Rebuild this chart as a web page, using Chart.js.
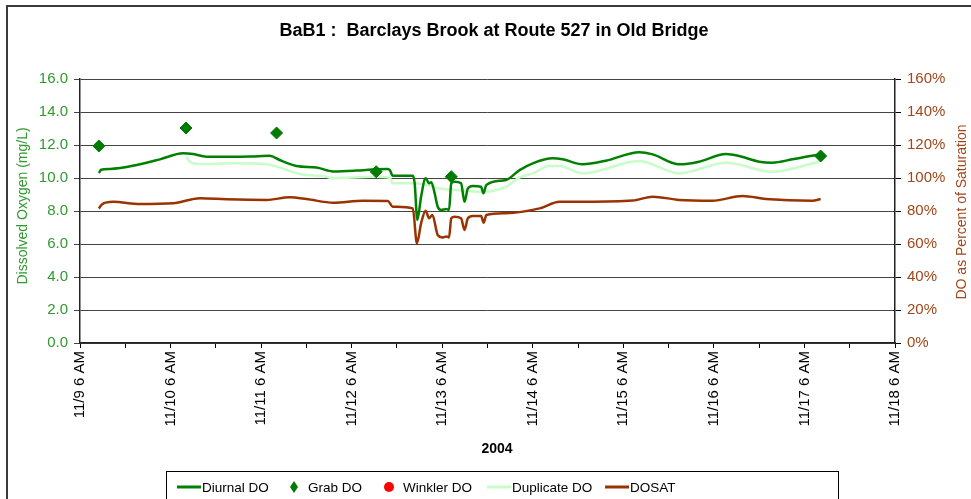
<!DOCTYPE html>
<html>
<head>
<meta charset="utf-8">
<script src="https://cdn.jsdelivr.net/npm/chart.js@4.4.1/dist/chart.umd.min.js"></script>
<style>
  html, body { margin: 0; padding: 0; background: #fff; }
  canvas { display: block; }
</style>
</head>
<body>
<canvas id="c" width="971" height="499"></canvas>
<script>
// ---------------- DATA ----------------
const chartTitle = 'BaB1 :  Barclays Brook at Route 527 in Old Bridge';
const xAxisTitle = '2004';
const yAxisTitle = 'Dissolved Oxygen (mg/L)';
const y2AxisTitle = 'DO as Percent of Saturation';
// x values are hours after 11/9 6 AM
const xTickLabels = ['11/9 6 AM','11/10 6 AM','11/11 6 AM','11/12 6 AM','11/13 6 AM','11/14 6 AM','11/15 6 AM','11/16 6 AM','11/17 6 AM','11/18 6 AM'];
const yTickValues = [0, 2, 4, 6, 8, 10, 12, 14, 16];
const y2TickValues = [0, 20, 40, 60, 80, 100, 120, 140, 160];

const diurnalHours = [5.0, 5.6, 8.0, 15.0, 21.2, 27.3, 30.0, 33.5, 38.8, 45.0, 50.3, 52.9, 57.4, 62.7, 67.1, 73.2, 78.5, 81.6, 82.1, 82.9, 88.2, 88.7, 89.4, 90.4, 91.6, 92.5, 93.1, 94.0, 94.8, 95.7, 97.1, 97.8, 98.4, 99.3, 101.0, 101.9, 102.8, 104.1, 106.3, 106.9, 107.7, 112.9, 116.5, 120.0, 125.3, 127.9, 133.2, 139.4, 148.2, 151.8, 158.8, 164.1, 171.2, 174.7, 180.0, 183.5, 188.8, 195.9];
const diurnalDO    = [10.30, 10.50, 10.55, 10.79, 11.13, 11.50, 11.45, 11.29, 11.29, 11.30, 11.35, 11.09, 10.73, 10.63, 10.40, 10.45, 10.53, 10.55, 10.48, 10.14, 10.14, 9.68, 7.45, 8.87, 9.98, 9.68, 9.75, 9.07, 8.26, 8.06, 8.12, 8.06, 9.68, 9.78, 9.68, 8.56, 9.37, 9.52, 9.47, 9.07, 9.58, 9.88, 10.48, 10.89, 11.19, 11.13, 10.83, 11.05, 11.56, 11.43, 10.83, 10.99, 11.45, 11.33, 10.99, 10.93, 11.13, 11.43];

const grabHours = [5.0, 28.1, 52.1, 78.5, 98.4, 196.3];
const grabDO    = [11.94, 13.03, 12.73, 10.38, 10.08, 11.33];

const winklerHours = [];
const winklerDO    = [];

const duplicateHours = [28.1, 29.1, 31.8, 40.6, 49.4, 52.9, 58.2, 65.3, 67.1, 77.6, 82.1, 82.9, 88.2, 90.9, 95.3, 99.7, 106.8, 112.9, 116.5, 120.0, 124.4, 127.1, 133.2, 148.2, 158.8, 171.2, 183.5, 195.9];
const duplicateDO    = [11.29, 10.99, 10.85, 10.89, 10.83, 10.63, 10.24, 10.08, 9.98, 10.08, 10.02, 9.68, 9.68, 9.62, 9.37, 9.27, 9.17, 9.47, 10.04, 10.28, 10.73, 10.73, 10.28, 11.03, 10.28, 10.93, 10.38, 10.99];

const dosatHours = [5.0, 5.8, 8.8, 15.9, 24.7, 31.8, 38.8, 49.4, 55.6, 60.0, 67.1, 75.0, 81.6, 82.9, 88.2, 89.3, 90.4, 91.6, 92.5, 93.4, 94.8, 96.2, 97.1, 97.8, 98.4, 99.3, 101.0, 101.9, 102.8, 104.1, 106.3, 107.0, 107.7, 112.9, 121.8, 127.1, 134.1, 146.5, 151.8, 158.8, 167.6, 175.6, 181.8, 194.1, 196.3];
const dosatPct   = [81.5, 84.0, 85.6, 84.2, 84.7, 87.7, 87.1, 86.7, 88.3, 87.3, 85.0, 86.2, 86.1, 82.6, 81.6, 60.4, 72.5, 80.2, 75.6, 77.6, 65.5, 64.0, 64.6, 64.0, 75.6, 76.5, 75.6, 68.5, 75.6, 77.0, 77.0, 72.9, 77.6, 78.6, 81.6, 85.6, 85.6, 86.3, 88.7, 86.7, 86.2, 89.1, 87.3, 86.2, 87.3];

// ---------------- BUILD ----------------
const pts = (xs, ys) => xs.map((x, i) => ({ x: x, y: ys[i] }));
const GREEN_TEXT = '#2f9a2f';
const BROWN_TEXT = '#a0461a';

const datasets = [
  { label: 'Diurnal DO', data: pts(diurnalHours, diurnalDO), yAxisID: 'y', borderColor: '#008000', backgroundColor: '#008000', borderWidth: 2.5, pointRadius: 0, cubicInterpolationMode: 'monotone', legendType: 'line' },
  { label: 'Grab DO', data: pts(grabHours, grabDO), yAxisID: 'y', showLine: false, pointStyle: 'rectRot', pointRadius: 6, pointBackgroundColor: '#007a00', pointBorderColor: '#007a00', borderColor: '#007a00', backgroundColor: '#007a00', legendType: 'diamond' },
  { label: 'Winkler DO', data: pts(winklerHours, winklerDO), yAxisID: 'y', showLine: false, pointStyle: 'circle', pointRadius: 5, pointBackgroundColor: '#ff0000', borderColor: '#ff0000', backgroundColor: '#ff0000', legendType: 'dot' },
  { label: 'Duplicate DO', data: pts(duplicateHours, duplicateDO), yAxisID: 'y', borderColor: '#c8fcc8', backgroundColor: '#c8fcc8', borderWidth: 2.5, pointRadius: 0, cubicInterpolationMode: 'monotone', legendType: 'line' },
  { label: 'DOSAT', data: pts(dosatHours, dosatPct), yAxisID: 'y1', borderColor: '#993300', backgroundColor: '#993300', borderWidth: 2.5, pointRadius: 0, cubicInterpolationMode: 'monotone', legendType: 'line' }
];
// draw order: duplicate under diurnal
datasets[0].order = 1; datasets[1].order = 0; datasets[2].order = 0; datasets[3].order = 2; datasets[4].order = 3;

const decorPlugin = {
  id: 'decor',
  beforeDraw(chart) {
    const ctx = chart.ctx;
    ctx.save();
    ctx.fillStyle = '#fff';
    ctx.fillRect(0, 0, chart.width, chart.height);
    ctx.restore();
  },
  afterDraw(chart) {
    const ctx = chart.ctx;
    ctx.save();
    // outer frame (left and top edges)
    ctx.strokeStyle = '#3a3a3a';
    ctx.lineWidth = 2;
    ctx.beginPath();
    ctx.moveTo(7, chart.height);
    ctx.lineTo(7, 6);
    ctx.lineTo(chart.width, 6);
    ctx.stroke();
    // title
    ctx.fillStyle = '#000';
    ctx.font = 'bold 18px "Liberation Sans", Arial, sans-serif';
    ctx.textAlign = 'center';
    ctx.textBaseline = 'middle';
    ctx.fillText(chartTitle, 494, 31);
    // x axis title
    ctx.font = 'bold 14px "Liberation Sans", Arial, sans-serif';
    ctx.fillText(xAxisTitle, 497, 449);
    // left axis title
    ctx.font = '14px "Liberation Sans", Arial, sans-serif';
    ctx.fillStyle = GREEN_TEXT;
    ctx.save();
    ctx.translate(23, 206);
    ctx.rotate(-Math.PI / 2);
    ctx.fillText(yAxisTitle, 0, 0);
    ctx.restore();
    // right axis title
    ctx.fillStyle = BROWN_TEXT;
    ctx.save();
    ctx.translate(962, 212);
    ctx.rotate(-Math.PI / 2);
    ctx.fillText(y2AxisTitle, 0, 0);
    ctx.restore();
    // legend box
    ctx.strokeStyle = '#000';
    ctx.lineWidth = 1;
    ctx.strokeRect(166.5, 471.5, 672, 40);
    const itemX = [177, 290, 384, 487, 605];
    const ly = 487;
    ctx.font = '13.5px "Liberation Sans", Arial, sans-serif';
    ctx.textAlign = 'left';
    chart.data.datasets.forEach((ds, i) => {
      const x0 = itemX[i];
      let tx;
      if (ds.legendType === 'line') {
        ctx.strokeStyle = ds.borderColor;
        ctx.lineWidth = 3;
        ctx.beginPath();
        ctx.moveTo(x0, ly);
        ctx.lineTo(x0 + 24, ly);
        ctx.stroke();
        tx = x0 + 25;
      } else if (ds.legendType === 'diamond') {
        ctx.fillStyle = ds.pointBackgroundColor;
        ctx.beginPath();
        ctx.moveTo(x0 + 4, ly - 6);
        ctx.lineTo(x0 + 8, ly);
        ctx.lineTo(x0 + 4, ly + 6);
        ctx.lineTo(x0, ly);
        ctx.closePath();
        ctx.fill();
        tx = x0 + 18;
      } else {
        ctx.fillStyle = ds.pointBackgroundColor;
        ctx.beginPath();
        ctx.arc(x0 + 5, ly, 5, 0, Math.PI * 2);
        ctx.fill();
        tx = x0 + 19;
      }
      ctx.fillStyle = '#000';
      ctx.fillText(ds.label, tx, ly + 1);
    });
    ctx.restore();
  }
};

new Chart(document.getElementById('c'), {
  type: 'line',
  data: { datasets: datasets },
  plugins: [decorPlugin],
  options: {
    responsive: false,
    animation: false,
    events: [],
    layout: { padding: { top: 79, left: 0, right: 0, bottom: 0 } },
    plugins: { legend: { display: false }, title: { display: false }, tooltip: { enabled: false } },
    scales: {
      x: {
        type: 'linear',
        min: 0,
        max: 216,
        afterFit: s => { s.height = 156; },
        afterBuildTicks: s => { s.ticks = []; for (let v = 0; v <= 216; v += 12) s.ticks.push({ value: v }); },
        ticks: {
          autoSkip: false,
          maxRotation: 90,
          minRotation: 90,
          padding: 3,
          color: '#000',
          font: { family: '"Liberation Sans", Arial, sans-serif', size: 15 },
          callback: v => (v % 24 === 0 ? xTickLabels[v / 24] : '')
        },
        grid: { drawOnChartArea: false, drawTicks: true, tickLength: 5, color: '#000' },
        border: { color: '#222', width: 1.5 }
      },
      y: {
        position: 'left',
        min: 0,
        max: 16,
        afterFit: s => { s.width = 80; },
        afterBuildTicks: s => { s.ticks = yTickValues.map(v => ({ value: v })); },
        ticks: {
          padding: 6,
          color: GREEN_TEXT,
          font: { family: '"Liberation Sans", Arial, sans-serif', size: 15 },
          callback: v => v.toFixed(1)
        },
        grid: { color: '#444', lineWidth: 1, tickLength: 6 },
        border: { color: '#222', width: 1.5 }
      },
      y1: {
        position: 'right',
        min: 0,
        max: 160,
        afterFit: s => { s.width = 76; },
        afterBuildTicks: s => { s.ticks = y2TickValues.map(v => ({ value: v })); },
        ticks: {
          padding: 6,
          color: BROWN_TEXT,
          font: { family: '"Liberation Sans", Arial, sans-serif', size: 15 },
          callback: v => v + '%'
        },
        grid: { drawOnChartArea: false, color: '#000', tickLength: 6 },
        border: { color: '#222', width: 1.5 }
      }
    }
  }
});
</script>
</body>
</html>
